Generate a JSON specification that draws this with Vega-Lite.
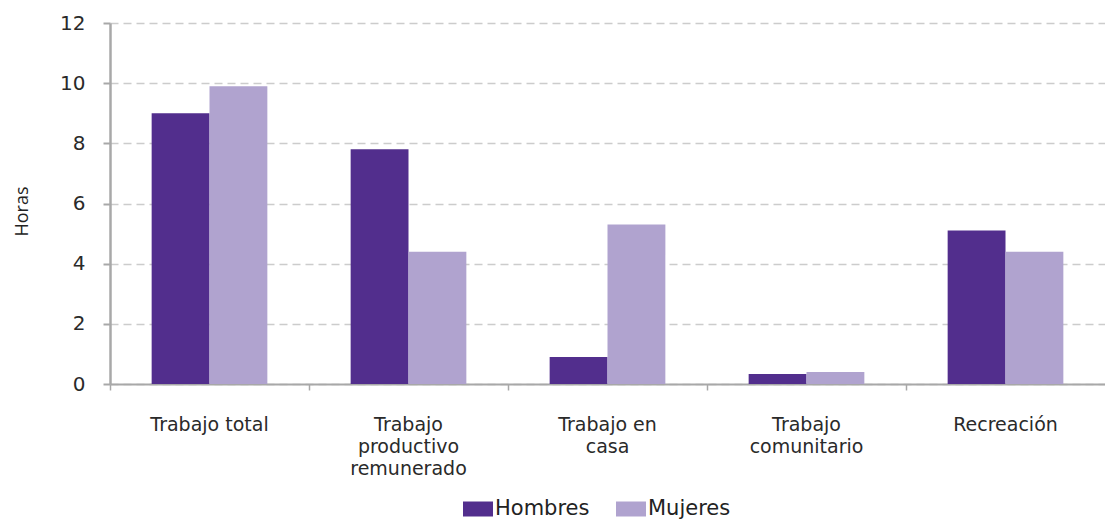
{
  "$schema": "https://vega.github.io/schema/vega-lite/v6.json",
  "width": 995,
  "height": 361,
  "autosize": "none",
  "padding": {"left": 110, "top": 23, "right": 0, "bottom": 138},
  "background": "white",
  "config": {
    "font": "DejaVu Sans",
    "view": {"stroke": null}
  },
  "data": {
    "values": [
      {"categoria": "Trabajo total", "sexo": "Hombres", "horas": 9.0},
      {"categoria": "Trabajo total", "sexo": "Mujeres", "horas": 9.9},
      {"categoria": "Trabajo productivo remunerado", "sexo": "Hombres", "horas": 7.8},
      {"categoria": "Trabajo productivo remunerado", "sexo": "Mujeres", "horas": 4.4},
      {"categoria": "Trabajo en casa", "sexo": "Hombres", "horas": 0.9},
      {"categoria": "Trabajo en casa", "sexo": "Mujeres", "horas": 5.3},
      {"categoria": "Trabajo comunitario", "sexo": "Hombres", "horas": 0.33},
      {"categoria": "Trabajo comunitario", "sexo": "Mujeres", "horas": 0.4},
      {"categoria": "Recreación", "sexo": "Hombres", "horas": 5.1},
      {"categoria": "Recreación", "sexo": "Mujeres", "horas": 4.4}
    ]
  },
  "mark": {"type": "bar"},
  "encoding": {
    "x": {
      "field": "categoria",
      "type": "nominal",
      "sort": null,
      "scale": {"paddingInner": 0, "paddingOuter": 0},
      "axis": {
        "title": null,
        "labelAngle": 0,
        "bandPosition": 0,
        "domainColor": "#a8a8a8",
        "domainWidth": 2,
        "tickColor": "#a8a8a8",
        "tickWidth": 1.5,
        "tickSize": 6,
        "labelFontSize": 19,
        "labelColor": "#2a2a2a",
        "labelPadding": 25,
        "labelLineHeight": 22,
        "labelBaseline": "top",
        "labelExpr": "datum.value == 'Trabajo productivo remunerado' ? ['Trabajo', 'productivo', 'remunerado'] : datum.value == 'Trabajo en casa' ? ['Trabajo en', 'casa'] : datum.value == 'Trabajo comunitario' ? ['Trabajo', 'comunitario'] : datum.value",
        "grid": false
      }
    },
    "xOffset": {
      "field": "sexo",
      "type": "nominal",
      "sort": ["Hombres", "Mujeres"],
      "scale": {"paddingInner": 0, "paddingOuter": 0.72}
    },
    "y": {
      "field": "horas",
      "type": "quantitative",
      "scale": {"domain": [0, 12], "nice": false},
      "axis": {
        "title": "Horas",
        "titleFont": "Open Sans",
        "titleFontSize": 18,
        "titleFontWeight": "normal",
        "titleColor": "#222222",
        "titleX": -88,
        "titleY": 188,
        "titleAngle": -90,
        "titleAlign": "center",
        "titleBaseline": "middle",
        "values": [0, 2, 4, 6, 8, 10, 12],
        "labelFontSize": 20,
        "labelColor": "#2a2a2a",
        "labelPadding": 18,
        "tickSize": 7,
        "tickColor": "#a8a8a8",
        "tickWidth": 2,
        "domainColor": "#a8a8a8",
        "domainWidth": 2.5,
        "gridColor": "#cccccc",
        "gridDash": [8, 5],
        "gridWidth": 1.5
      }
    },
    "color": {
      "field": "sexo",
      "type": "nominal",
      "scale": {"domain": ["Hombres", "Mujeres"], "range": ["#522E8D", "#B0A3CF"]},
      "legend": {
        "title": null,
        "orient": "none",
        "direction": "horizontal",
        "legendX": 353,
        "legendY": 471,
        "symbolType": "M-1,-0.5H1V0.5H-1Z",
        "symbolSize": 900,
        "symbolStrokeWidth": 0,
        "symbolOpacity": 1,
        "labelFontSize": 21,
        "labelColor": "#222222",
        "labelOffset": 2,
        "columnPadding": 26
      }
    }
  }
}
